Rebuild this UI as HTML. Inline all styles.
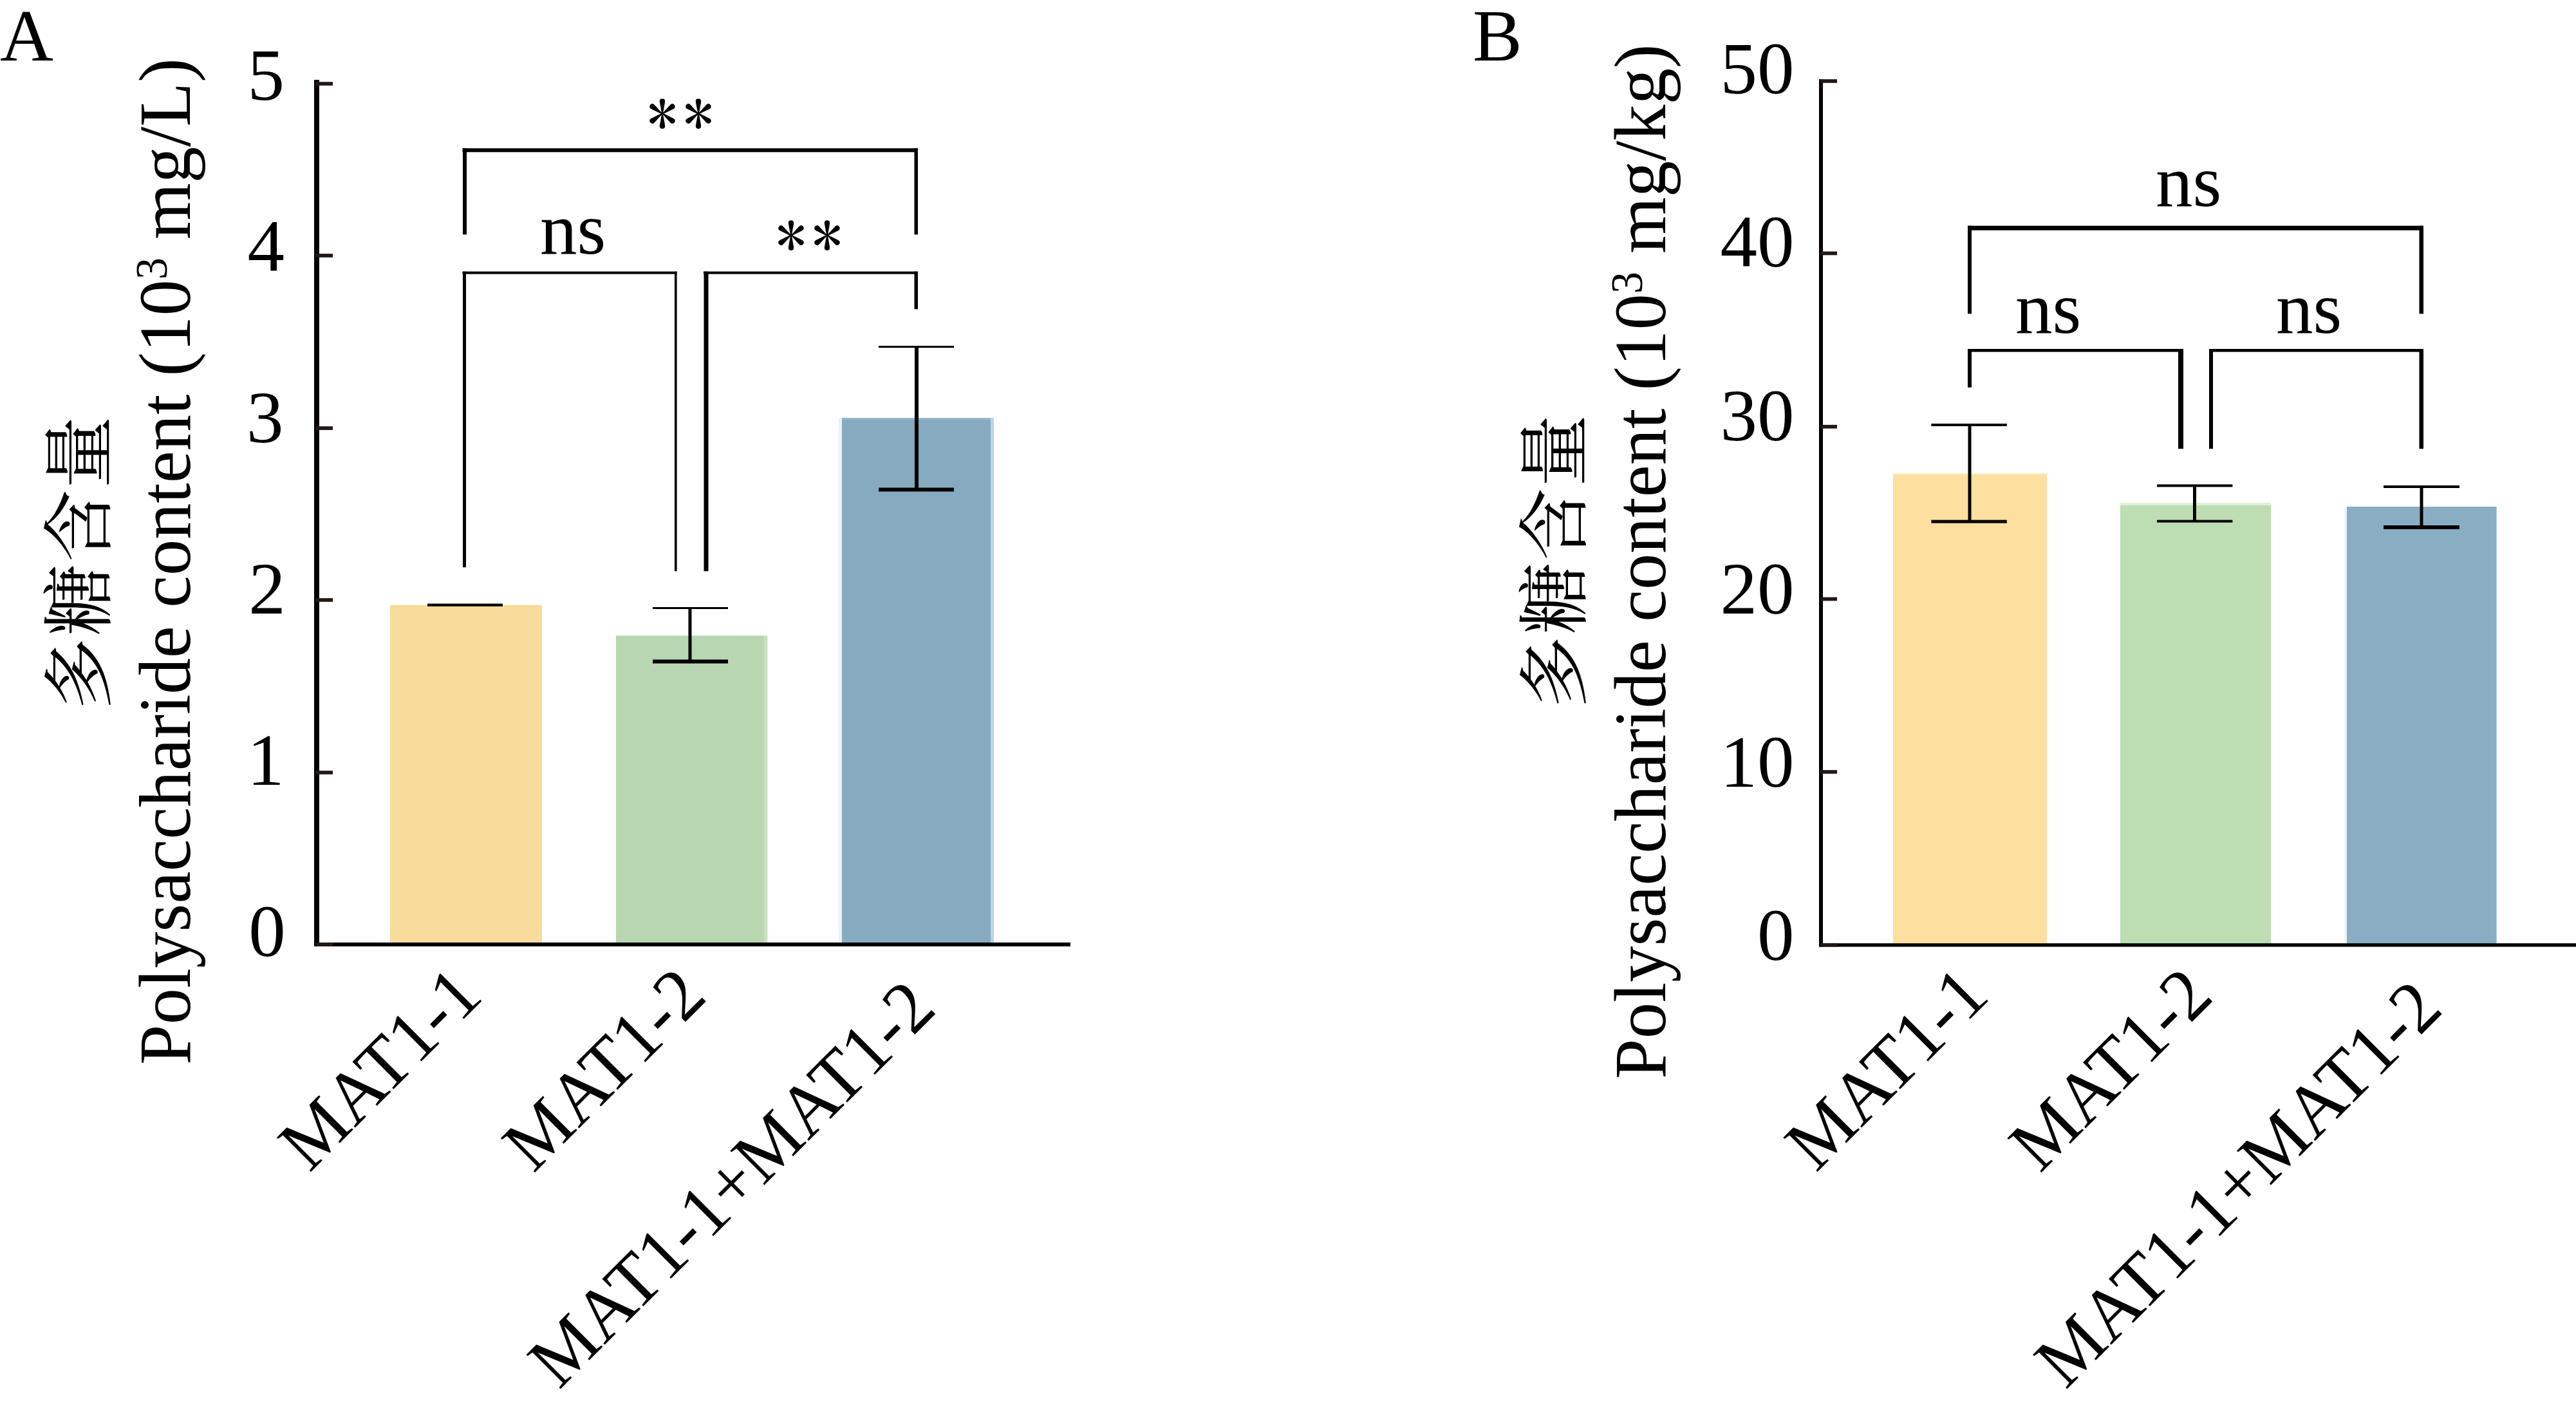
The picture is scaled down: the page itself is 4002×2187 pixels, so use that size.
<!DOCTYPE html>
<html><head><meta charset="utf-8"><title>Polysaccharide content</title>
<style>
html,body{margin:0;padding:0;background:#fff;width:4002px;height:2187px;overflow:hidden}
svg{display:block}
text{font-family:"Liberation Serif","Noto Serif CJK SC",serif;font-size:115px;fill:#000}
.cn{font-family:"Liberation Serif","Noto Serif CJK SC",serif;font-size:112px;letter-spacing:2.7px}
.ast{font-family:"IPAGothic",sans-serif;font-size:94px;letter-spacing:9px}
</style></head><body>
<svg width="4002" height="2187" viewBox="0 0 4002 2187">
<rect width="4002" height="2187" fill="#fff"/>

<!-- ================= PANEL A ================= -->
<g id="panelA">
<text id="lblA" x="0" y="94">A</text>

<!-- y title -->
<text id="ytA_en" transform="translate(295,1654) rotate(-90) scale(0.9795,1)">Polysaccharide content (10<tspan font-size="70" dy="-36">3</tspan><tspan dy="36"> mg/L)</tspan></text>
<text id="ytA_cn" class="cn" transform="translate(162.5,1102.5) rotate(-90)">多糖含量</text>

<!-- tick labels -->
<g id="tlA" text-anchor="end">
<text id="tA1" x="442.0" y="154.85">5</text>
<text id="tA2" x="442.1" y="420.8">4</text>
<text id="tA3" x="440.6" y="686.75">3</text>
<text id="tA4" x="443.65" y="952.7">2</text>
<text id="tA5" x="441.6" y="1219">1</text>
<text id="tA6" x="443.7" y="1485">0</text>
</g>

<!-- bars -->
<rect id="barA1" x="606" y="939.7" width="236" height="525" fill="#F8DC9C"/>
<rect id="barA2" x="957" y="987.3" width="230" height="478" fill="#B8D6B0"/>
<rect x="1187" y="987.3" width="5.4" height="478" fill="#C9E0C2"/>
<rect x="1303" y="649" width="5" height="816" fill="#EAF2F7"/>
<rect id="barA3" x="1308" y="649" width="231" height="816" fill="#86AABF"/>
<rect x="1308" y="649" width="231" height="3" fill="#98B8CA"/>
<rect x="1539" y="649" width="5" height="816" fill="#BDD4E0"/>

<!-- axes -->
<rect x="488" y="124" width="8" height="1346" fill="#000"/>
<rect x="488" y="1464" width="1175" height="6" fill="#000"/>
<g fill="#231815">
<rect x="490" y="127.2" width="27" height="5.7"/>
<rect x="490" y="394.1" width="27" height="5.7"/>
<rect x="490" y="662.2" width="27" height="5.7"/>
<rect x="490" y="929.1" width="27" height="5.7"/>
<rect x="490" y="1197.1" width="27" height="5.7"/>
<rect x="490" y="1464" width="27" height="5.7"/>
</g>

<!-- error bars -->
<g fill="#000">
<rect x="664" y="937.6" width="117" height="4.3"/>
<rect x="1069.5" y="944.5" width="5" height="83"/>
<rect x="1014" y="943" width="117" height="3"/>
<rect x="1014" y="1024.5" width="117" height="6"/>
<rect x="1421" y="538.7" width="6" height="222"/>
<rect x="1365" y="537.2" width="117" height="3"/>
<rect x="1365" y="757.5" width="117" height="6"/>
</g>

<!-- brackets -->
<g fill="#000">
<rect x="718.5" y="230.3" width="707.5" height="6"/>
<rect x="719" y="230.3" width="6" height="134"/>
<rect x="1420.5" y="230.3" width="5.5" height="134"/>
<rect x="718.5" y="421.7" width="333" height="4"/>
<rect x="719" y="421.7" width="5" height="459.5"/>
<rect x="1048" y="421.7" width="3.6" height="465.5"/>
<rect x="1093" y="421.7" width="333" height="4"/>
<rect x="1093.5" y="421.7" width="7" height="465.5"/>
<rect x="1420.5" y="421.7" width="5.5" height="58.5"/>
</g>

<!-- significance -->
<text id="sigA1" class="ast" x="1005.5" y="211.8">**</text>
<text id="sigA2" x="839" y="394">ns</text>
<text id="sigA3" class="ast" x="1205.5" y="401">**</text>

<!-- x labels -->
<g text-anchor="end">
<text id="xA1" transform="translate(753,1550.25) rotate(-45) scale(0.972,1)">MAT1-1</text>
<text id="xA2" transform="translate(1100.95,1551.35) rotate(-45) scale(0.972,1)">MAT1-2</text>
<text id="xA3" transform="translate(1457.55,1570.8) rotate(-45) scale(0.972,1)">MAT1-1+MAT1-2</text>
</g>
</g>

<!-- ================= PANEL B ================= -->
<g id="panelB">
<text id="lblB" x="2288" y="94">B</text>

<text id="ytB_en" transform="translate(2587,1676) rotate(-90) scale(0.9795,1)">Polysaccharide content (10<tspan font-size="70" dy="-36">3</tspan><tspan dy="36"> mg/kg)</tspan></text>
<text id="ytB_cn" class="cn" transform="translate(2455,1100) rotate(-90)">多糖含量</text>

<g id="tlB" text-anchor="end">
<text id="tB1" x="2787.6" y="145">50</text>
<text id="tB2" x="2787.6" y="414.4">40</text>
<text id="tB3" x="2787.6" y="683.7">30</text>
<text id="tB4" x="2787.6" y="953.1">20</text>
<text id="tB5" x="2787.6" y="1222.4">10</text>
<text id="tB6" x="2787.6" y="1491">0</text>
</g>

<rect id="barB1" x="2941" y="735.3" width="239" height="730" fill="#FDDFA0"/>
<rect x="2941" y="735.3" width="239" height="2" fill="#FDEDC4"/>
<rect id="barB2" x="3294" y="781" width="234" height="685" fill="#BDDDB3"/>
<rect x="3294" y="781" width="234" height="4" fill="#DEF0D8"/>
<rect x="3642" y="787" width="4" height="679" fill="#EDF5F8"/>
<rect id="barB3" x="3646" y="787" width="232.6" height="679" fill="#89AEC3"/>

<rect x="2826" y="123" width="6" height="1347.6" fill="#000"/>
<rect x="2826" y="1465.2" width="1176" height="5.4" fill="#000"/>
<g fill="#231815">
<rect x="2828" y="123.1" width="26" height="5.7"/>
<rect x="2828" y="390.6" width="26" height="5.7"/>
<rect x="2828" y="659.9" width="26" height="5.7"/>
<rect x="2828" y="927.6" width="26" height="5.7"/>
<rect x="2828" y="1196.1" width="26" height="5.7"/>
<rect x="2828" y="1465.2" width="26" height="5.4"/>
</g>

<g fill="#000">
<rect x="3057.5" y="659.5" width="5" height="151"/>
<rect x="3000.4" y="658" width="117.4" height="4"/>
<rect x="3000.4" y="807.6" width="117.4" height="5"/>
<rect x="3407" y="754.4" width="5" height="55"/>
<rect x="3351" y="752.4" width="117.4" height="4"/>
<rect x="3351" y="807.6" width="117.4" height="4"/>
<rect x="3759.5" y="756" width="5" height="63"/>
<rect x="3703" y="754" width="118" height="4"/>
<rect x="3703" y="816" width="118" height="6"/>
</g>

<g fill="#000">
<rect x="3057" y="350.7" width="708" height="7"/>
<rect x="3057" y="350.7" width="6" height="136.7"/>
<rect x="3758.5" y="350.7" width="6.5" height="136.7"/>
<rect x="3057" y="542" width="335" height="4.6"/>
<rect x="3057" y="542" width="6" height="59.8"/>
<rect x="3384" y="542" width="8" height="155"/>
<rect x="3432" y="542" width="333" height="4.6"/>
<rect x="3432" y="542" width="6" height="155"/>
<rect x="3758.5" y="542" width="6.5" height="155"/>
</g>

<text id="sigB1" x="3349" y="319.5">ns</text>
<text id="sigB2" x="3131" y="517">ns</text>
<text id="sigB3" x="3536" y="517">ns</text>

<g text-anchor="end">
<text id="xB1" transform="translate(3093.5,1550.25) rotate(-45) scale(0.972,1)">MAT1-1</text>
<text id="xB2" transform="translate(3441.45,1551.35) rotate(-45) scale(0.972,1)">MAT1-2</text>
<text id="xB3" transform="translate(3798.05,1570.8) rotate(-45) scale(0.972,1)">MAT1-1+MAT1-2</text>
</g>
</g>
</svg>
</body></html>
